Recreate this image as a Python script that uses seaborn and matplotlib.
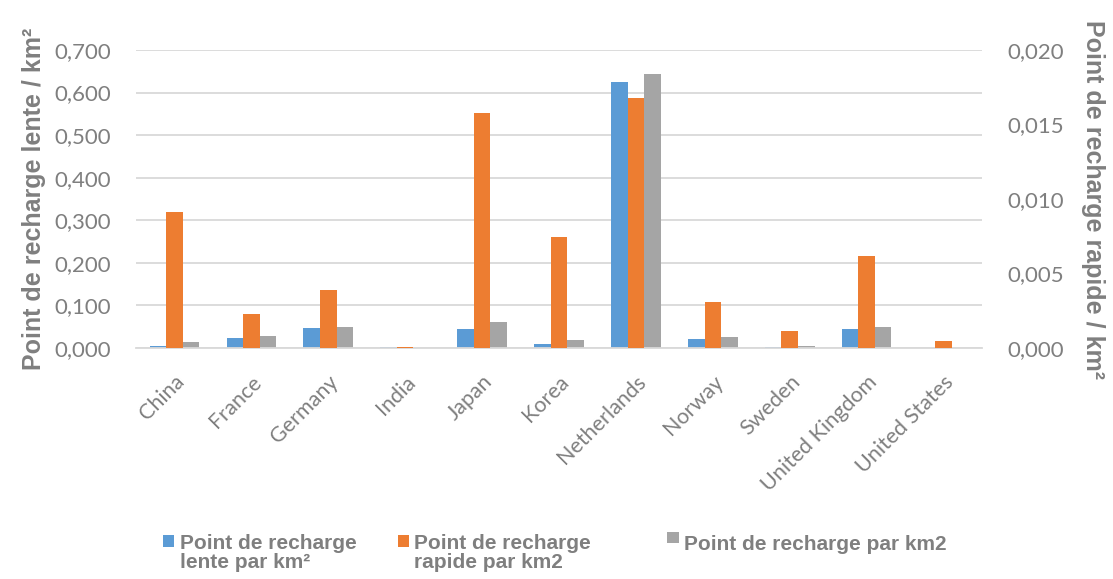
import numpy as np
import pandas as pd
import matplotlib
matplotlib.use('Agg')
import matplotlib.pyplot as plt
import matplotlib.patches as mpatches
from matplotlib.legend_handler import HandlerPatch
from matplotlib.ticker import FuncFormatter
import seaborn as sns

countries = ['China', 'France', 'Germany', 'India', 'Japan', 'Korea', 'Netherlands',
             'Norway', 'Sweden', 'United Kingdom', 'United States']

# left axis (per km2)
lente = [0.005, 0.024, 0.046, 0.002, 0.045, 0.009, 0.625, 0.021, 0.002, 0.045, 0.001]
total = [0.014, 0.027, 0.050, 0.001, 0.060, 0.019, 0.643, 0.025, 0.005, 0.050, 0.001]
# right axis (per km2)
rapide = [0.0091, 0.0023, 0.0039, 0.00005, 0.0158, 0.00745, 0.0168, 0.0031, 0.00115, 0.0062, 0.0005]

series = ['Point de recharge\nlente par km²', 'Point de recharge\nrapide par km2',
          'Point de recharge par km2']
colors = ['#5B9BD5', '#ED7D31', '#A5A5A5']

n = len(countries)
zeros = [0.0] * n
df = pd.DataFrame({
    'country': countries * 3,
    'serie': [series[0]] * n + [series[1]] * n + [series[2]] * n,
    'left': lente + zeros + total,      # blue + grey on primary axis
    'right': zeros + rapide + zeros,    # orange on secondary axis
})

grey = '#7f7f7f'
sns.set_style('white')
plt.rcParams['font.family'] = ['Lato', 'DejaVu Sans']

fig = plt.figure(figsize=(11.13, 5.79), dpi=100)
ax = fig.add_axes([0.1222, 0.399, 0.7601, 0.5146])
ax2 = ax.twinx()

kw = dict(x='country', hue='serie', hue_order=series, order=countries,
          palette=colors, width=0.645, saturation=1, errorbar=None,
          legend=False, linewidth=0)
sns.barplot(data=df, y='left', ax=ax, **kw)
sns.barplot(data=df, y='right', ax=ax2, **kw)

ax.set_ylim(0, 0.7)
ax.set_yticks(np.arange(0, 0.701, 0.1))
ax2.set_ylim(0, 0.02)
ax2.set_yticks(np.arange(0, 0.0201, 0.005))
ax.set_xlim(-0.5, n - 0.5)

fmt = FuncFormatter(lambda v, p: f'{v:.3f}'.replace('.', ','))
ax.yaxis.set_major_formatter(fmt)
ax2.yaxis.set_major_formatter(fmt)

ax.set_axisbelow(True)
ax.grid(axis='y', color='#d9d9d9', linewidth=1.3)
ax.grid(axis='x', visible=False)
ax2.grid(False)
for a in (ax, ax2):
    for s in a.spines.values():
        s.set_visible(False)
    a.tick_params(length=0, colors=grey, labelsize=16)
    a.set_xlabel('')
ax.spines['bottom'].set_visible(True)
ax.spines['bottom'].set_color('#d9d9d9')
ax.spines['bottom'].set_linewidth(1.3)

ax.tick_params(axis='y', pad=18)
ax2.tick_params(axis='y', pad=18)
ax.tick_params(axis='x', pad=17, labelbottom=True, labelsize=15.5)
ax2.tick_params(axis='x', labelbottom=False)
plt.setp(ax.get_xticklabels(), rotation=45, ha='right', rotation_mode='anchor')

ax.set_ylabel('Point de recharge lente / km²', fontsize=18, fontweight='bold',
              color=grey, family='Liberation Sans', labelpad=6)
ax2.set_ylabel('Point de recharge rapide / km²', fontsize=18, fontweight='bold',
               color=grey, family='Liberation Sans', rotation=-90, labelpad=30)


class TopSquare(HandlerPatch):
    # square aligned with the first text line
    def create_artists(self, legend, orig_handle, xdescent, ydescent, width, height,
                       fontsize, trans):
        size = 0.55 * fontsize
        p = mpatches.Rectangle((-xdescent, height - ydescent - size * 0.75), size, size,
                               facecolor=orig_handle.get_facecolor(), linewidth=0,
                               transform=trans)
        return [p]


leg_x = [0.137, 0.348, 0.590]
for lab, col, lx in zip(series, colors, leg_x):
    two = '\n' in lab
    leg = fig.legend([mpatches.Patch(color=col)], [lab], loc='upper left',
                     bbox_to_anchor=(lx, 0.095), frameon=False,
                     handlelength=0.6, handleheight=2.0 if two else 0.9,
                     handletextpad=0.2, borderpad=0,
                     handler_map={mpatches.Patch: TopSquare()},
                     prop={'family': 'Liberation Sans', 'weight': 'bold', 'size': 15})
    for t in leg.get_texts():
        t.set_color(grey)
        t.set_linespacing(1.0)

fig.savefig('out.png', dpi=100)
